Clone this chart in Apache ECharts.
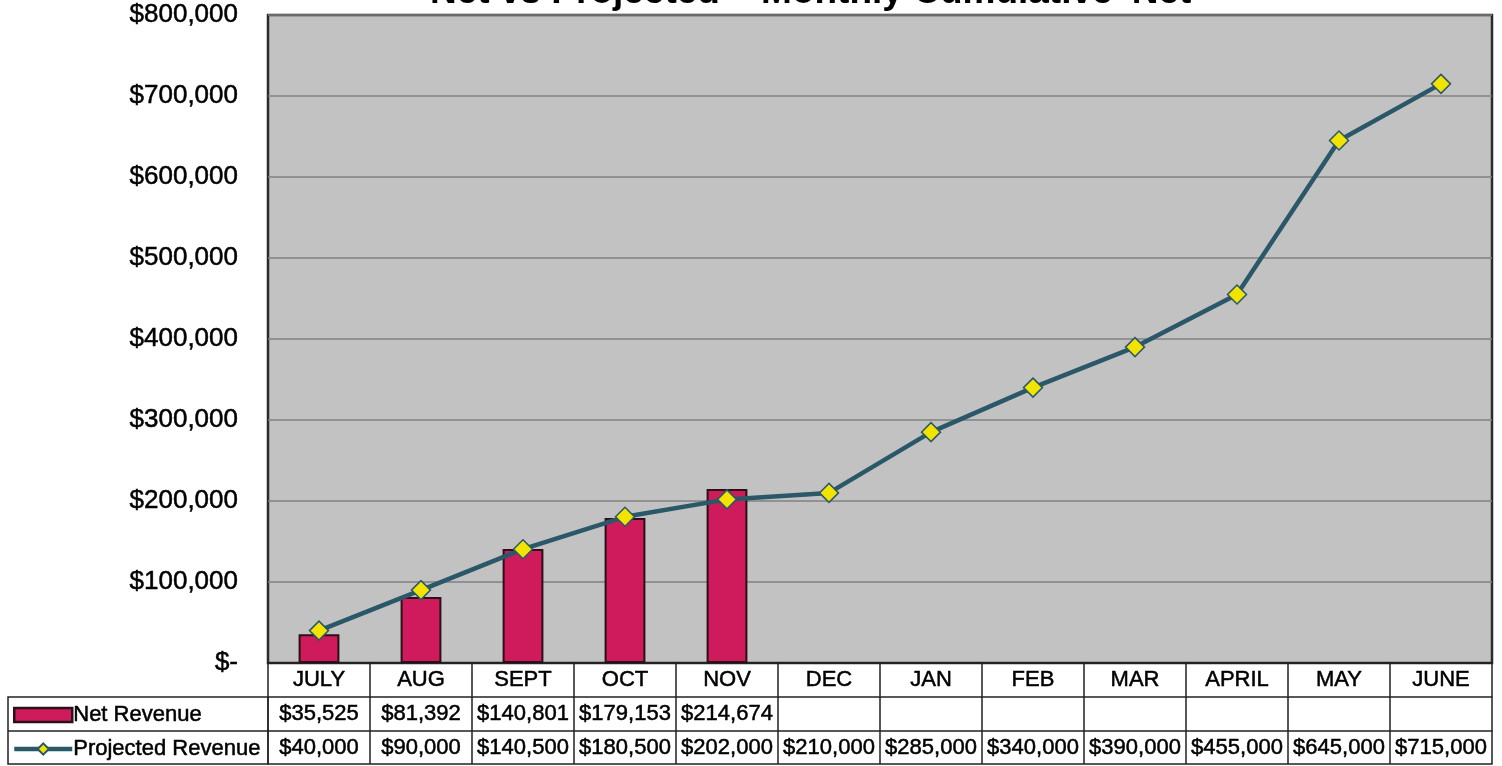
<!DOCTYPE html>
<html>
<head>
<meta charset="utf-8">
<script src="https://cdn.jsdelivr.net/npm/echarts@6/dist/echarts.min.js"></script>
<style>
html,body{margin:0;padding:0;background:#fff;}
#c{width:1502px;height:766px;}
</style>
</head>
<body>
<div id="c"></div>
<script>
var categories = ['JULY','AUG','SEPT','OCT','NOV','DEC','JAN','FEB','MAR','APRIL','MAY','JUNE'];
var netRevenue = [35525, 81392, 140801, 179153, 214674, null, null, null, null, null, null, null];
var projectedRevenue = [40000, 90000, 140500, 180500, 202000, 210000, 285000, 340000, 390000, 455000, 645000, 715000];
var yTicks = [0, 100000, 200000, 300000, 400000, 500000, 600000, 700000, 800000];
var titleText = "Net vs Projected – Monthly Cumulative 'Net'";

var FONT = '"Liberation Sans", Arial, sans-serif';
var GRID = {left: 268, right: 10, top: 15, bottom: 103};
var ROW = 34;
var TXT = {textBorderColor: '#000', textBorderWidth: 0.5};

function money(v) {
  if (v === null || v === undefined) return ' ';
  if (v === 0) return '$-';
  return '$' + v.toString().replace(/\B(?=(\d{3})+(?!\d))/g, ',');
}

var chart = echarts.init(document.getElementById('c'));

function tableAxis(offset) {
  return {
    type: 'category', data: categories, position: 'bottom', offset: offset,
    boundaryGap: true,
    axisLine: {show: true, lineStyle: {color: '#222', width: 1.5}},
    axisTick: {show: true, inside: true, length: ROW, lineStyle: {color: '#222', width: 1.5}},
    axisLabel: {show: false}, splitLine: {show: false}
  };
}

var option = {
  backgroundColor: '#fff',
  animation: false,
  grid: {
    left: GRID.left, right: GRID.right, top: GRID.top, bottom: GRID.bottom,
    show: true, backgroundColor: '#c2c2c2', borderColor: '#2a2a2a', borderWidth: 2.5,
    containLabel: false
  },
  legend: {
    orient: 'vertical', left: 12, top: 663 + ROW + 1, itemGap: 0, padding: 0,
    itemWidth: 58, itemHeight: 14,
    selectedMode: false,
    textStyle: Object.assign({fontFamily: FONT, fontSize: 22, color: '#000', lineHeight: ROW, padding: [0, 0, 0, -4]}, TXT),
    data: [
      {name: 'Net Revenue', icon: 'rect', itemStyle: {borderColor: '#2a1018', borderWidth: 2.5}},
      {name: 'Projected Revenue', lineStyle: {width: 4.5, color: '#2b5868'}}
    ]
  },
  xAxis: [
    {
      type: 'category', data: categories, boundaryGap: true,
      axisLine: {show: true, lineStyle: {color: '#222', width: 2}},
      axisTick: {show: false},
      axisLabel: {
        margin: 0, interval: 0,
        formatter: function (val, idx) {
          return '{c|' + val + '}\n{v|' + money(netRevenue[idx]) + '}\n{v|' + money(projectedRevenue[idx]) + '}';
        },
        rich: {
          c: Object.assign({fontFamily: FONT, fontSize: 22, color: '#000', lineHeight: ROW}, TXT),
          v: Object.assign({fontFamily: FONT, fontSize: 22, color: '#000', lineHeight: ROW}, TXT)
        }
      },
      splitLine: {show: false}
    },
    tableAxis(ROW),
    tableAxis(ROW * 2),
    tableAxis(ROW * 3 - 1)
  ],
  yAxis: {
    type: 'value', min: yTicks[0], max: yTicks[yTicks.length - 1], interval: yTicks[1] - yTicks[0],
    axisLine: {show: false}, axisTick: {show: false},
    axisLabel: Object.assign({
      margin: 30, fontFamily: FONT, fontSize: 26, color: '#000', padding: [6, 0, 0, 0],
      formatter: function (v) { return money(v); }
    }, TXT),
    splitLine: {show: true, lineStyle: {color: '#808080', width: 1.5}}
  },
  series: [
    {
      name: 'Net Revenue', type: 'bar', data: netRevenue, barWidth: '40%',
      itemStyle: {color: '#cf1a5c', borderColor: '#2a1018', borderWidth: 2}
    },
    {
      name: 'Projected Revenue', type: 'line', data: projectedRevenue,
      symbol: 'diamond', symbolSize: 19, showAllSymbol: true,
      lineStyle: {color: '#2b5868', width: 4.5},
      itemStyle: {color: '#f2e400', borderColor: '#2b5868', borderWidth: 1.5},
      z: 5
    }
  ],
  graphic: [
    {
      type: 'text', silent: true, z: 100,
      x: 430, y: 11,
      style: {
        text: titleText, fontFamily: FONT, fontWeight: 'bold', fontSize: 37, fill: '#000',
        verticalAlign: 'bottom', align: 'left'
      }
    },
    {
      type: 'rect', silent: true, z: -1,
      shape: {x: 8, y: 663 + ROW, width: GRID.left - 8, height: ROW * 2 - 1},
      style: {fill: 'none', stroke: '#222', lineWidth: 1.5}
    },
    {
      type: 'line', silent: true,
      shape: {x1: 8, y1: 663 + ROW * 2, x2: GRID.left, y2: 663 + ROW * 2},
      style: {stroke: '#222', lineWidth: 1.5}
    }
  ]
};
chart.setOption(option);
</script>
</body>
</html>
